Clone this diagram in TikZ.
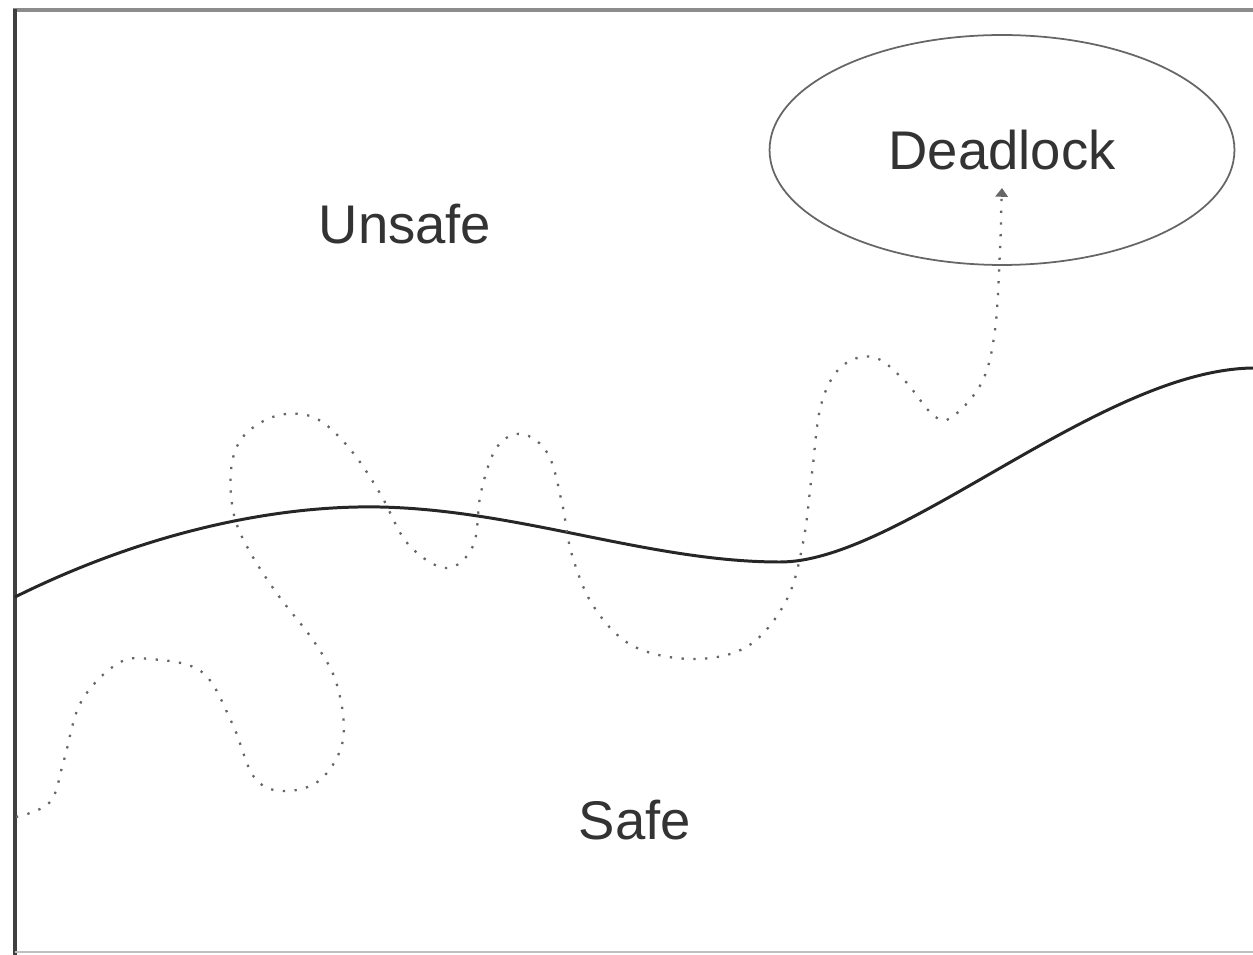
\documentclass[tikz,border=0pt]{standalone}
\usepackage{fontspec}
\setmainfont{Liberation Sans}
\usetikzlibrary{shapes.geometric,arrows.meta}

\begin{document}
\begin{tikzpicture}[x=0.02cm, y=-0.02cm,
  every node/.style = {font=\fontsize{31}{37}\selectfont, text=black!80},
  region/.style = {draw=black!85, line width=1.7pt},
  walk/.style = {draw=black!60, line width=1.3pt, dash pattern=on 1.3pt off 5.4pt}]
  \useasboundingbox (0,0) rectangle (1253,955);
  % frame
  \draw[black!45, line width=2.4pt] (13,10) -- (1253,10);
  \draw[black!75, line width=2.4pt] (15,9) -- (15,955);
  \draw[black!25, line width=0.8pt] (15,952) -- (1253,952);
  % labels
  \node (unsafe) at (405,224) {Unsafe};
  \node (safe) at (635,820) {Safe};
  \node[ellipse, draw=black!60, line width=1pt,
    minimum width=9.3cm, minimum height=4.6cm] (deadlock) at (1002,150) {Deadlock};
  \coordinate (tip) at (1002,188);
  % boundary between safe and unsafe
  \draw[region] (15,597) .. controls (150,530) and (280,505) .. (380,507)
    .. controls (520,510) and (650,562) .. (780,562)
    .. controls (900,562) and (1100,370) .. (1253,368);
  % random walk into deadlock
  \draw[walk, -{Triangle[width=7pt, length=5pt]}] plot[smooth, tension=0.6] coordinates {
    (16,817) (50,802) (64,760) (81,702) (117,664) (150,659) (202,672) (232,723)
    (254,777) (283,791) (320,780) (343,740) (337,685) (315,643) (278,595) (250,552)
    (234,515) (231,470) (242,438) (270,418) (300,414) (325,424) (354,454) (381,495)
    (408,544) (446,568) (473,546) (481,492) (497,447) (522,434) (548,454) (562,503)
    (572,555) (594,607) (633,646) (693,659) (748,646) (786,601) (803,543) (812,473)
    (821,405) (841,367) (873,357) (904,380) (933,415) (952,417) (982,382) (995,330)
    (1000,250) (1001,215)} -- (tip);
\end{tikzpicture}
\end{document}
